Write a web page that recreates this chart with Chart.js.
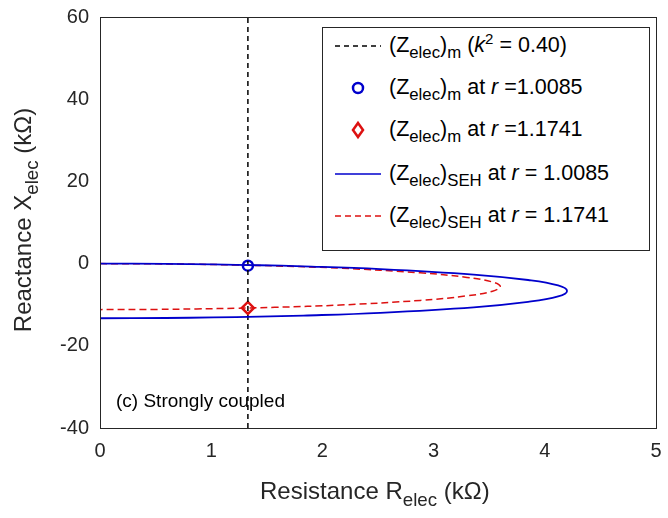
<!DOCTYPE html>
<html><head><meta charset="utf-8">
<script src="https://cdn.jsdelivr.net/npm/chart.js@4"></script>
<style>
body{margin:0;background:#fff;font-family:"Liberation Sans",Arial,sans-serif;color:#262626}
#wrap{position:relative;width:668px;height:518px}
.t{position:absolute;white-space:nowrap}
#leg{position:absolute;left:322px;top:27px;width:326px;height:222px;border:1px solid #262626;background:#fff;font-size:21.5px;color:#000}
.row{position:absolute;left:0;height:30px;width:100%}
.row .tx{position:absolute;left:66px;top:2px}
sub{font-size:78%;vertical-align:-0.35em;line-height:0}
sup{font-size:70%;line-height:0}
</style></head><body>
<div id="wrap"><canvas id="c" width="668" height="518"></canvas>
<div class="t" style="left:260px;top:477px;font-size:24px">Resistance R<sub>elec</sub> (kΩ)</div>
<div class="t" style="left:-112px;top:206px;font-size:24px;transform:rotate(-90deg);width:270px;text-align:center">Reactance X<sub>elec</sub> (kΩ)</div>
<div class="t" style="left:116px;top:390px;font-size:19px;color:#000">(c) Strongly coupled</div>
<div id="leg">
<div class="row" style="top:3px"><svg width="60" height="30" style="position:absolute;left:2px"><line x1="10" y1="15" x2="56" y2="15" stroke="#000" stroke-width="1.5" stroke-dasharray="5,4"/></svg><div class="tx">(Z<sub>elec</sub>)<sub>m</sub> (<i>k</i><sup>2</sup> = 0.40)</div></div>
<div class="row" style="top:45px"><svg width="60" height="30" style="position:absolute;left:2px"><circle cx="33" cy="15" r="5" fill="none" stroke="#0000cc" stroke-width="2.5"/></svg><div class="tx">(Z<sub>elec</sub>)<sub>m</sub> at <i>r</i> =1.0085</div></div>
<div class="row" style="top:87px"><svg width="60" height="30" style="position:absolute;left:2px"><polygon points="33,8 38,15 33,22 28,15" fill="none" stroke="#dd1111" stroke-width="2.5"/></svg><div class="tx">(Z<sub>elec</sub>)<sub>m</sub> at <i>r</i> =1.1741</div></div>
<div class="row" style="top:131px"><svg width="60" height="30" style="position:absolute;left:2px"><line x1="10" y1="15" x2="56" y2="15" stroke="#0000cc" stroke-width="1.5"/></svg><div class="tx">(Z<sub>elec</sub>)<sub>SEH</sub> at <i>r</i> = 1.0085</div></div>
<div class="row" style="top:173px"><svg width="60" height="30" style="position:absolute;left:2px"><line x1="10" y1="15" x2="56" y2="15" stroke="#dd1111" stroke-width="1.5" stroke-dasharray="6,4"/></svg><div class="tx">(Z<sub>elec</sub>)<sub>SEH</sub> at <i>r</i> = 1.1741</div></div>
</div>
</div>
<script>
const blueR=[0,0.59,1.02,1.43,1.83,2.52,3.36,3.85,4.12,4.2,4.12,3.85,3.36,2.52,1.83,1.43,1.02,0.59,0];
const blueX=[0,-0.07,-0.2,-0.4,-0.66,-1.33,-2.66,-3.99,-5.32,-6.65,-7.98,-9.31,-10.64,-11.97,-12.64,-12.9,-13.1,-13.23,-13.3];
const redR=[0,0.51,0.87,1.23,1.57,2.16,2.88,3.30,3.53,3.6,3.53,3.30,2.88,2.16,1.57,1.23,0.87,0.51,0];
const redX=[0,-0.06,-0.17,-0.34,-0.56,-1.12,-2.24,-3.36,-4.48,-5.6,-6.72,-7.84,-8.96,-10.08,-10.64,-10.86,-11.03,-11.14,-11.2];
const Rm=1.33;
const markBlue=[1.33,-0.5];
const markRed=[1.33,-10.8];
const xTicks=[0,1,2,3,4,5];
const yTicks=[-40,-20,0,20,40,60];
const pts=(a,b)=>a.map((v,i)=>({x:v,y:b[i]}));
const box={id:'box',afterDraw(c){const a=c.chartArea,x=c.ctx;x.save();x.strokeStyle='#262626';x.lineWidth=1;x.strokeRect(a.left+0.5,a.top+0.5,a.right-a.left,a.bottom-a.top);x.restore();}};
const tk={size:20,family:'"Liberation Sans",Arial'};
new Chart(document.getElementById('c'),{type:'scatter',
data:{datasets:[
{data:pts(blueR,blueX),showLine:true,borderColor:'#0000cc',borderWidth:1.8,pointRadius:0,tension:0.4},
{data:pts(redR,redX),showLine:true,borderColor:'#dd1111',borderWidth:1.5,borderDash:[7,4],pointRadius:0,tension:0.4},
{data:[{x:Rm,y:-40},{x:Rm,y:60}],showLine:true,borderColor:'#000',borderWidth:1.5,borderDash:[5,4],pointRadius:0},
{data:[{x:markBlue[0],y:markBlue[1]}],pointStyle:'circle',pointRadius:5,borderColor:'#0000cc',borderWidth:2.5,backgroundColor:'rgba(0,0,0,0)'},
{data:[{x:markRed[0],y:markRed[1]}],pointStyle:'rectRot',pointRadius:6,borderColor:'#dd1111',borderWidth:2.5,backgroundColor:'rgba(0,0,0,0)'}
]},
options:{responsive:false,animation:false,layout:{padding:{top:17,right:12,left:0,bottom:0}},
plugins:{legend:{display:false},tooltip:{enabled:false}},
scales:{
x:{min:0,max:5,grid:{display:false},border:{color:'#262626'},afterBuildTicks(s){s.ticks=xTicks.map(v=>({value:v}));},ticks:{color:'#262626',font:tk},afterFit(s){s.height=90;}},
y:{min:-40,max:60,grid:{display:false},border:{color:'#262626'},afterBuildTicks(s){s.ticks=yTicks.map(v=>({value:v}));},ticks:{color:'#262626',font:tk},afterFit(s){s.width=100;}}
}},plugins:[box]});
</script></body></html>
